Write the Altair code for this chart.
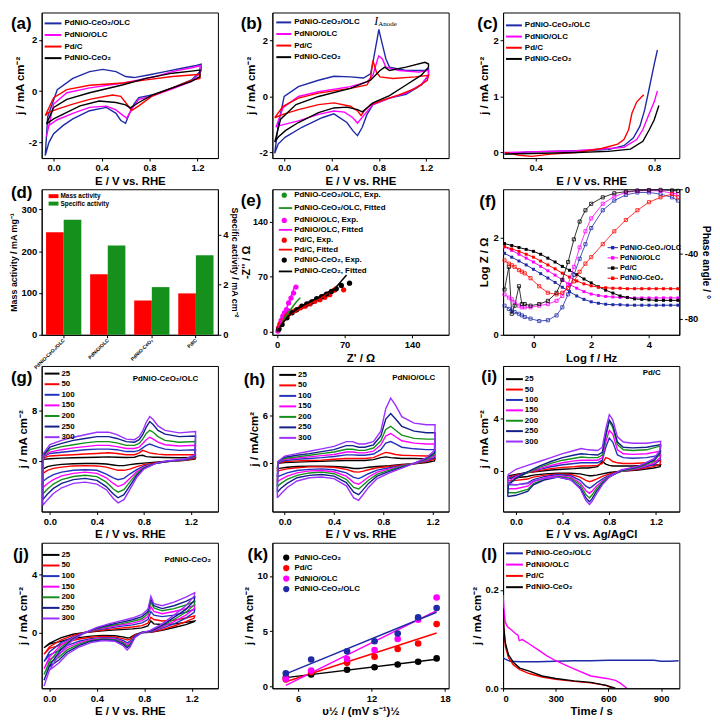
import altair as alt
import pandas as pd

FONT = "Liberation Sans"
SERIF = "Liberation Serif"

C_BLUE = "#1f2aa6"
C_MAG = "#ff00ff"
C_RED = "#ff0000"
C_BLK = "#000000"
C_GRN = "#16901c"
C_BLUE2 = "#2233bb"
C_NAVY = "#141f8a"
C_VIO = "#9b30ff"

CAT4 = ["PdNiO-CeO₂/OLC", "PdNiO/OLC", "Pd/C", "PdNiO-CeO₂"]
COL4 = [C_BLUE, C_MAG, C_RED, C_BLK]
RATES = ["25", "50", "100", "150", "200", "250", "300"]
RATE_COLS = [C_BLK, C_RED, C_BLUE2, C_MAG, C_GRN, C_NAVY, C_VIO]

# ---------------- (a) CV in KOH ----------------
A_BLUE_X = [-0.07, -0.05, 0.03, 0.16, 0.30, 0.41, 0.52, 0.60, 0.67, 0.79, 0.93, 1.07, 1.19, 1.23, 1.23, 1.15, 0.99, 0.82, 0.71, 0.67, 0.63, 0.60, 0.56, 0.52, 0.44, 0.30, 0.16, 0.08, 0.00, -0.04, -0.07]
A_BLUE_Y = [-2.5, -1.0, 0.06, 0.5, 0.76, 0.85, 0.76, 0.57, 0.53, 0.63, 0.76, 0.89, 1.0, 1.05, 0.8, 0.44, 0.13, -0.15, -0.25, -0.5, -0.89, -1.25, -1.14, -0.86, -0.63, -0.76, -1.08, -1.33, -1.65, -2.0, -2.5]
A_MAG_X = [-0.06, 0.00, 0.11, 0.30, 0.58, 0.71, 0.85, 0.99, 1.15, 1.22, 1.22, 1.15, 0.99, 0.82, 0.71, 0.66, 0.61, 0.58, 0.52, 0.44, 0.30, 0.16, 0.03, -0.04, -0.06]
A_MAG_Y = [-1.77, -0.5, -0.06, 0.13, 0.32, 0.44, 0.57, 0.76, 0.91, 0.99, 0.7, 0.38, 0.09, -0.19, -0.32, -0.63, -1.05, -0.95, -0.73, -0.58, -0.63, -0.86, -1.11, -1.33, -1.77]
A_RED_X = [-0.07, 0.00, 0.11, 0.30, 0.58, 0.77, 0.99, 1.15, 1.22, 1.22, 1.15, 0.99, 0.82, 0.71, 0.65, 0.60, 0.56, 0.49, 0.30, 0.16, 0.03, -0.04, -0.07]
A_RED_Y = [-0.95, -0.25, 0.06, 0.23, 0.32, 0.44, 0.57, 0.63, 0.66, 0.5, 0.42, 0.13, -0.19, -0.57, -0.75, -0.44, -0.2, -0.15, -0.32, -0.5, -0.7, -0.82, -0.95]
A_BLK_X = [-0.06, 0.00, 0.11, 0.30, 0.58, 0.77, 0.99, 1.15, 1.22, 1.22, 1.15, 0.99, 0.82, 0.71, 0.64, 0.60, 0.52, 0.38, 0.22, 0.08, 0.00, -0.06]
A_BLK_Y = [-1.27, -0.63, -0.32, -0.06, 0.25, 0.5, 0.7, 0.78, 0.82, 0.57, 0.38, 0.13, -0.15, -0.44, -0.65, -0.53, -0.44, -0.38, -0.57, -0.89, -1.08, -1.27]

# ---------------- (b) CV in KOH + ethanol ----------------
B_BLUE_X = [-0.08, -0.05, 0.00, 0.12, 0.29, 0.42, 0.56, 0.67, 0.73, 0.75, 0.79, 0.80, 0.82, 0.86, 0.89, 1.03, 1.19, 1.22, 1.22, 1.16, 1.03, 0.89, 0.75, 0.70, 0.66, 0.62, 0.58, 0.53, 0.42, 0.32, 0.15, 0.01, -0.05, -0.08]
B_BLUE_Y = [-2.03, -1.0, 0.0, 0.35, 0.58, 0.72, 0.70, 0.66, 0.81, 1.22, 2.15, 2.4, 2.03, 1.34, 1.05, 0.93, 0.93, 0.99, 0.76, 0.41, 0.08, -0.06, -0.29, -0.64, -1.1, -1.4, -1.22, -0.93, -0.62, -0.76, -1.1, -1.45, -1.69, -2.03]
B_MAG_X = [-0.07, -0.01, 0.12, 0.29, 0.56, 0.70, 0.75, 0.79, 0.80, 0.83, 0.86, 0.97, 1.14, 1.22, 1.22, 1.16, 1.03, 0.89, 0.75, 0.68, 0.62, 0.58, 0.51, 0.42, 0.29, 0.12, 0.01, -0.05, -0.07]
B_MAG_Y = [-1.1, -0.4, 0.0, 0.17, 0.35, 0.52, 0.76, 1.34, 1.45, 1.34, 1.05, 0.93, 0.87, 0.93, 0.76, 0.43, 0.12, -0.06, -0.29, -0.64, -0.95, -0.76, -0.56, -0.52, -0.64, -0.87, -0.99, -1.05, -1.1]
B_RED_X = [-0.08, -0.01, 0.12, 0.29, 0.56, 0.70, 0.73, 0.75, 0.78, 0.81, 0.92, 1.11, 1.22, 1.21, 1.11, 0.97, 0.84, 0.73, 0.68, 0.65, 0.62, 0.56, 0.42, 0.29, 0.12, -0.01, -0.08]
B_RED_Y = [-0.76, -0.35, -0.06, 0.12, 0.29, 0.41, 0.64, 1.28, 0.87, 0.70, 0.64, 0.70, 0.76, 0.58, 0.29, 0.06, -0.12, -0.29, -0.5, -0.68, -0.52, -0.35, -0.23, -0.29, -0.47, -0.64, -0.76]
B_BLK_X = [-0.08, -0.03, 0.10, 0.29, 0.56, 0.73, 0.81, 0.85, 0.89, 1.03, 1.19, 1.22, 1.22, 1.16, 1.03, 0.89, 0.75, 0.70, 0.66, 0.62, 0.53, 0.42, 0.29, 0.12, 0.01, -0.05, -0.08]
B_BLK_Y = [-1.63, -0.81, -0.29, 0.0, 0.29, 0.58, 0.93, 1.05, 0.93, 1.05, 1.22, 1.16, 1.05, 0.76, 0.41, 0.03, -0.23, -0.41, -0.55, -0.47, -0.38, -0.41, -0.58, -0.93, -1.22, -1.45, -1.63]

# ---------------- (c) LSV ----------------
C_BLUE_X = [0.295, 0.376, 0.537, 0.645, 0.698, 0.73, 0.752, 0.768, 0.784, 0.80, 0.811]
C_BLUE_Y = [-0.03, 0.01, 0.03, 0.05, 0.12, 0.26, 0.47, 0.76, 1.16, 1.57, 1.83]
C_MAG_X = [0.295, 0.537, 0.698, 0.741, 0.762, 0.784, 0.80, 0.811]
C_MAG_Y = [0.0, 0.03, 0.09, 0.23, 0.41, 0.70, 0.90, 1.10]
C_RED_X = [0.295, 0.344, 0.387, 0.451, 0.537, 0.623, 0.677, 0.698, 0.714, 0.725, 0.741, 0.757, 0.765]
C_RED_Y = [0.0, -0.05, -0.07, -0.03, 0.0, 0.07, 0.15, 0.23, 0.41, 0.70, 0.90, 0.99, 1.03]
C_BLK_X = [0.295, 0.537, 0.645, 0.72, 0.762, 0.784, 0.80, 0.816]
C_BLK_Y = [-0.03, 0.0, 0.02, 0.06, 0.20, 0.41, 0.58, 0.84]

# ---------------- (d) activities ----------------
D_CATS = ["PdNiO-CeO₂/OLC", "PdNiO/OLC", "PdNiO-CeO₂", "Pd/C"]
D_MASS = [245, 145, 82, 99]
D_SPEC = [4.58, 3.56, 1.9, 3.17]

# ---------------- (e) Nyquist ----------------
E_GRN_PX = [1.7, 3.4, 5.1, 6.8, 9.6, 11.9]
E_GRN_PY = [2.9, 9.2, 14.3, 17.6, 21.8, 26.0]
E_GRN_FX = [0, 5, 12, 20, 24]
E_GRN_FY = [0, 12, 25, 38, 43]
E_MAG_PX = [0.7, 1.7, 2.7, 4.1, 5.8, 7.5, 9.6, 11.9, 14.3, 17.0, 19.5]
E_MAG_PY = [0.8, 5.0, 9.2, 14.3, 19.7, 23.9, 28.1, 36.5, 42.7, 49.0, 56.6]
E_MAG_FX = [0, 3, 8, 13, 18]
E_MAG_FY = [0, 10, 25, 40, 57]
E_RED_PX = [1.7, 3.4, 6.1, 8.5, 11.9, 15.4, 18.8, 23.9, 29.0, 34.1, 39.2, 44.4, 49.5, 54.6, 59.7, 69.0]
E_RED_PY = [5.0, 10.1, 15.5, 19.7, 22.6, 25.1, 26.8, 30.2, 32.3, 35.2, 38.6, 40.7, 43.6, 46.9, 52.8, 53.2]
E_RED_FX = [0, 5, 15, 30, 45, 62]
E_RED_FY = [0, 11, 23, 33, 42, 58]
E_BLK_PX = [1.7, 5.1, 10.2, 15.4, 20.5, 25.6, 30.7, 35.8, 41.0, 46.1, 51.2, 56.3, 61.4, 66.6, 75.1]
E_BLK_PY = [2.9, 9.2, 17.6, 23.9, 28.1, 32.3, 35.2, 37.7, 41.9, 44.4, 47.8, 51.1, 54.5, 58.7, 61.6]
E_BLK_FX = [0, 5, 15, 30, 45, 60, 72]
E_BLK_FY = [0, 10, 24, 36, 45, 55, 72]

# ---------------- (f) Bode ----------------
F_LZ_X = [-1.0, -0.75, -0.5, -0.25, 0.0, 0.25, 0.5, 0.75, 1.0, 1.25, 1.5, 1.75, 2.0, 2.25, 2.5, 2.75, 3.0, 3.25, 3.5, 3.75, 4.0, 4.25, 4.5, 4.75, 5.0]
F_LZ_BLUE = [1.68, 1.60, 1.52, 1.44, 1.35, 1.26, 1.17, 1.08, 0.98, 0.89, 0.80, 0.73, 0.68, 0.65, 0.63, 0.62, 0.62, 0.61, 0.61, 0.61, 0.61, 0.61, 0.61, 0.61, 0.61]
F_LZ_MAG = [1.81, 1.74, 1.66, 1.58, 1.50, 1.41, 1.32, 1.23, 1.13, 1.04, 0.96, 0.89, 0.84, 0.81, 0.79, 0.78, 0.77, 0.77, 0.76, 0.76, 0.76, 0.76, 0.76, 0.76, 0.76]
F_LZ_BLK = [1.88, 1.84, 1.80, 1.76, 1.72, 1.66, 1.58, 1.50, 1.41, 1.33, 1.24, 1.15, 1.07, 0.99, 0.92, 0.86, 0.80, 0.77, 0.74, 0.73, 0.72, 0.71, 0.71, 0.71, 0.71]
F_LZ_RED = [1.82, 1.77, 1.72, 1.66, 1.60, 1.52, 1.44, 1.36, 1.27, 1.19, 1.11, 1.05, 1.01, 0.98, 0.97, 0.96, 0.96, 0.95, 0.95, 0.95, 0.95, 0.95, 0.95, 0.95, 0.95]
F_PH_X = [-1.0, -0.85, -0.75, -0.65, -0.5, -0.4, -0.3, -0.1, 0.2, 0.5, 0.8, 1.0, 1.2, 1.4, 1.6, 1.8, 2.0, 2.4, 2.8, 3.2, 3.6, 4.0, 4.4, 4.8, 5.0]
F_PH_BLUE = [-72, -74, -75, -76, -77, -78, -79, -80, -81.5, -81, -78, -73, -65, -53, -43, -34, -24, -13, -7, -3.5, -2, -2, -3, -5, -7]
F_PH_MAG = [-65, -67, -68, -70, -72, -73, -73, -73, -72, -71, -69, -66, -59, -48, -36, -26, -18, -9, -4.5, -2, -1, -0.8, -1, -2.5, -3]
F_PH_BLK = [-62, -48, -77, -72, -60, -71, -71, -72, -71, -69, -64, -56, -45, -31, -20, -13, -9, -5, -2.5, -1.5, -0.8, -0.5, -0.4, -0.7, -1]
F_PH_RED = [-44, -46, -47, -48, -50, -51, -52, -55, -60, -64, -65, -64, -61, -57, -51, -46, -42, -34, -26, -19, -13, -8, -5, -3, -5]

# ---------------- (g) PdNiO-CeO2/OLC scan rates ----------------
XG = [-0.06, -0.055, 0.0, 0.1, 0.2, 0.3, 0.4, 0.5, 0.57, 0.65, 0.72, 0.76, 0.79, 0.82, 0.85, 0.88, 0.92, 0.98, 1.1, 1.24,
      1.235, 1.15, 1.0, 0.9, 0.8, 0.74, 0.68, 0.63, 0.58, 0.54, 0.48, 0.4, 0.3, 0.2, 0.1, 0.03, -0.02, -0.06]
G_25 = [-1.3, 0.25, 0.35, 0.45, 0.5, 0.55, 0.6, 0.65, 0.6, 0.55, 0.6, 0.85, 0.9, 0.7, 0.65, 0.6, 0.6, 0.55, 0.5, 0.55,
        0.3, 0.1, -0.05, -0.2, -0.35, -0.45, -0.6, -0.75, -0.75, -0.65, -0.5, -0.4, -0.4, -0.45, -0.55, -0.7, -0.9, -1.3]
G_50 = [-2.0, 0.5, 0.8, 0.9, 1.0, 1.1, 1.2, 1.3, 1.2, 1.0, 1.0, 1.3, 1.7, 1.5, 1.3, 1.2, 1.1, 1.0, 1.0, 1.0,
        0.4, 0.1, -0.1, -0.3, -0.6, -0.9, -1.3, -1.5, -1.5, -1.3, -1.0, -0.8, -0.75, -0.8, -1.0, -1.2, -1.5, -2.0]
G_100 = [-3.3, 0.7, 1.2, 1.4, 1.6, 1.8, 1.9, 1.9, 1.8, 1.5, 1.5, 1.7, 2.1, 2.5, 2.7, 2.5, 2.2, 1.9, 1.7, 1.8,
         0.6, 0.15, -0.1, -0.4, -0.8, -1.4, -2.1, -2.8, -3.0, -2.7, -2.1, -1.5, -1.4, -1.5, -1.8, -2.2, -2.7, -3.3]
G_150 = [-4.3, 0.8, 1.4, 1.8, 2.1, 2.3, 2.5, 2.5, 2.3, 2.0, 2.0, 2.2, 2.8, 3.4, 3.8, 3.5, 3.0, 2.6, 2.4, 2.5,
         0.7, 0.2, -0.1, -0.4, -1.0, -1.7, -2.8, -3.7, -4.1, -3.6, -2.7, -2.0, -1.8, -2.0, -2.4, -3.0, -3.6, -4.3]
G_200 = [-5.3, 0.9, 1.8, 2.3, 2.6, 2.9, 3.1, 3.1, 2.9, 2.5, 2.5, 2.8, 3.5, 4.4, 4.9, 4.6, 3.9, 3.3, 3.0, 3.1,
         0.8, 0.2, -0.1, -0.4, -1.1, -2.0, -3.4, -4.6, -5.0, -4.5, -3.4, -2.5, -2.3, -2.5, -3.0, -3.7, -4.5, -5.3]
G_250 = [-6.2, 1.0, 2.2, 2.8, 3.3, 3.6, 3.9, 3.9, 3.6, 3.1, 3.0, 3.4, 4.2, 5.4, 6.3, 5.8, 4.9, 4.3, 3.9, 4.0,
         0.9, 0.25, -0.05, -0.4, -1.2, -2.3, -4.0, -5.4, -5.9, -5.3, -4.1, -3.1, -2.8, -3.0, -3.6, -4.4, -5.3, -6.2]
G_300 = [-7.1, 1.2, 2.6, 3.3, 3.8, 4.2, 4.6, 4.6, 4.2, 3.5, 3.4, 3.9, 4.8, 6.2, 7.1, 6.6, 5.6, 4.9, 4.5, 4.7,
         1.0, 0.3, 0.0, -0.4, -1.3, -2.6, -4.6, -6.2, -6.7, -6.0, -4.6, -3.7, -3.4, -3.6, -4.3, -5.2, -6.2, -7.1]

# ---------------- (h) PdNiO/OLC scan rates ----------------
XH = [-0.06, -0.055, 0.0, 0.1, 0.2, 0.3, 0.4, 0.5, 0.55, 0.6, 0.65, 0.72, 0.78, 0.82, 0.86, 0.9, 0.95, 1.05, 1.15, 1.22,
      1.215, 1.15, 1.05, 0.95, 0.85, 0.75, 0.68, 0.63, 0.6, 0.56, 0.5, 0.4, 0.3, 0.2, 0.1, 0.02, -0.03, -0.06]
H_25 = [-0.7, 0.0, 0.1, 0.15, 0.2, 0.25, 0.3, 0.35, 0.35, 0.35, 0.35, 0.45, 0.7, 0.8, 0.7, 0.65, 0.6, 0.6, 0.55, 0.6,
        0.3, 0.1, -0.05, -0.15, -0.3, -0.4, -0.5, -0.6, -0.65, -0.65, -0.5, -0.4, -0.35, -0.35, -0.4, -0.5, -0.6, -0.7]
H_50 = [-1.0, 0.0, 0.2, 0.3, 0.35, 0.4, 0.5, 0.6, 0.6, 0.6, 0.6, 0.7, 1.1, 1.35, 1.25, 1.1, 1.0, 0.95, 0.9, 1.0,
        0.5, 0.2, -0.05, -0.2, -0.4, -0.55, -0.8, -1.0, -1.1, -1.05, -0.75, -0.5, -0.45, -0.45, -0.55, -0.7, -0.85, -1.0]
H_100 = [-1.7, 0.05, 0.35, 0.5, 0.6, 0.7, 0.85, 1.05, 1.05, 1.0, 1.0, 1.15, 1.7, 2.5, 2.7, 2.4, 2.0, 1.8, 1.7, 1.7,
         0.7, 0.3, -0.05, -0.3, -0.55, -0.85, -1.3, -1.7, -1.9, -1.75, -1.2, -0.8, -0.7, -0.75, -0.9, -1.2, -1.5, -1.7]
H_150 = [-2.3, 0.1, 0.5, 0.65, 0.8, 0.95, 1.1, 1.4, 1.4, 1.3, 1.3, 1.5, 2.3, 3.4, 3.7, 3.3, 2.8, 2.5, 2.4, 2.4,
         0.9, 0.4, 0.0, -0.35, -0.7, -1.1, -1.7, -2.3, -2.6, -2.4, -1.6, -1.05, -0.9, -0.95, -1.2, -1.6, -2.0, -2.3]
H_200 = [-2.9, 0.15, 0.6, 0.8, 1.0, 1.2, 1.4, 1.75, 1.75, 1.6, 1.6, 1.9, 2.8, 4.2, 4.6, 4.1, 3.5, 3.1, 3.0, 3.0,
         1.1, 0.5, 0.0, -0.4, -0.85, -1.35, -2.1, -2.8, -3.2, -3.0, -2.0, -1.3, -1.1, -1.2, -1.5, -2.0, -2.5, -2.9]
H_250 = [-3.6, 0.2, 0.75, 1.0, 1.2, 1.45, 1.7, 2.2, 2.2, 2.0, 2.0, 2.3, 3.4, 5.5, 6.2, 5.5, 4.6, 4.0, 3.8, 3.8,
         1.3, 0.6, 0.0, -0.5, -1.0, -1.6, -2.5, -3.4, -3.9, -3.6, -2.4, -1.6, -1.4, -1.5, -1.8, -2.5, -3.1, -3.6]
H_300 = [-4.3, 0.2, 0.9, 1.2, 1.5, 1.8, 2.1, 2.7, 2.7, 2.4, 2.4, 2.7, 4.0, 6.8, 8.1, 7.2, 5.8, 5.0, 4.8, 4.8,
         1.6, 0.7, 0.0, -0.6, -1.2, -1.9, -3.0, -4.0, -4.6, -4.3, -2.8, -1.9, -1.7, -1.8, -2.2, -3.0, -3.8, -4.3]

# ---------------- (i) Pd/C scan rates ----------------
XI = [-0.07, -0.065, 0.0, 0.1, 0.2, 0.3, 0.4, 0.5, 0.56, 0.62, 0.7, 0.74, 0.77, 0.8, 0.83, 0.87, 0.92, 1.0, 1.12, 1.24,
      1.235, 1.18, 1.05, 0.9, 0.8, 0.74, 0.69, 0.65, 0.63, 0.6, 0.55, 0.47, 0.36, 0.25, 0.15, 0.1, 0.0, -0.07]
I_25 = [-0.6, -0.4, -0.3, -0.15, -0.05, 0.05, 0.1, 0.15, 0.2, 0.2, 0.3, 0.7, 0.5, 0.4, 0.35, 0.35, 0.35, 0.35, 0.4, 0.45,
        0.3, 0.2, 0.05, -0.05, -0.15, -0.25, -0.35, -0.4, -0.4, -0.35, -0.25, -0.2, -0.2, -0.25, -0.35, -0.45, -0.55, -0.6]
I_50 = [-0.8, -0.5, -0.35, -0.15, 0.0, 0.15, 0.25, 0.3, 0.35, 0.35, 0.4, 0.55, 1.0, 0.9, 0.7, 0.6, 0.55, 0.55, 0.6, 0.8,
        0.5, 0.3, 0.1, -0.05, -0.25, -0.45, -0.65, -0.8, -0.85, -0.75, -0.5, -0.3, -0.25, -0.35, -0.5, -0.65, -0.75, -0.8]
I_100 = [-1.1, -0.6, -0.4, -0.1, 0.1, 0.3, 0.45, 0.55, 0.6, 0.6, 0.6, 0.8, 1.8, 2.5, 2.2, 1.2, 1.0, 0.95, 1.0, 1.2,
         0.8, 0.45, 0.15, -0.05, -0.35, -0.65, -0.95, -1.25, -1.35, -1.2, -0.75, -0.4, -0.3, -0.45, -0.7, -0.95, -1.1, -1.1]
I_150 = [-1.4, -0.8, -0.5, -0.15, 0.15, 0.4, 0.6, 0.75, 0.8, 0.8, 0.8, 1.0, 2.2, 3.1, 2.8, 1.6, 1.3, 1.25, 1.3, 1.5,
         1.0, 0.55, 0.2, -0.05, -0.4, -0.8, -1.2, -1.6, -1.75, -1.55, -0.95, -0.5, -0.4, -0.55, -0.85, -1.2, -1.4, -1.4]
I_200 = [-1.7, -1.0, -0.6, -0.15, 0.25, 0.55, 0.8, 0.95, 1.05, 1.0, 1.0, 1.2, 2.6, 3.8, 3.3, 2.0, 1.6, 1.55, 1.6, 1.9,
         1.3, 0.7, 0.25, -0.05, -0.45, -0.9, -1.4, -1.9, -2.1, -1.85, -1.1, -0.6, -0.45, -0.65, -1.0, -1.45, -1.7, -1.7]
I_250 = [-2.0, -1.1, -0.6, -0.1, 0.35, 0.7, 1.0, 1.2, 1.3, 1.25, 1.2, 1.4, 2.8, 3.9, 3.5, 2.2, 1.8, 1.75, 1.8, 2.0,
         1.4, 0.8, 0.3, 0.0, -0.5, -1.0, -1.6, -2.2, -2.4, -2.1, -1.3, -0.7, -0.5, -0.7, -1.1, -1.6, -1.9, -2.0]
I_300 = [-1.0, -0.3, 0.1, 0.4, 0.7, 1.0, 1.3, 1.55, 1.7, 1.6, 1.55, 1.8, 3.2, 4.3, 3.9, 2.6, 2.2, 2.1, 2.1, 2.25,
         1.6, 0.9, 0.35, 0.05, -0.5, -1.1, -1.8, -2.4, -2.6, -2.3, -1.4, -0.7, -0.5, -0.6, -0.8, -1.0, -1.1, -1.0]

# ---------------- (j) PdNiO-CeO2 scan rates ----------------
XJ = [-0.045, 0.0, 0.1, 0.2, 0.3, 0.4, 0.5, 0.6, 0.7, 0.78, 0.83, 0.855, 0.88, 0.95, 1.05, 1.15, 1.225,
      1.22, 1.15, 1.05, 0.95, 0.85, 0.78, 0.72, 0.68, 0.655, 0.62, 0.55, 0.45, 0.35, 0.25, 0.15, 0.08, 0.0, -0.045]
J_25 = [-1.05, -0.75, -0.35, -0.12, 0.0, 0.08, 0.15, 0.2, 0.25, 0.32, 0.45, 0.8, 0.6, 0.55, 0.6, 0.7, 0.8,
        0.75, 0.55, 0.35, 0.15, 0.02, 0.0, -0.15, -0.35, -0.38, -0.3, -0.22, -0.2, -0.25, -0.35, -0.5, -0.65, -0.8, -1.05]
J_50 = [-1.5, -1.0, -0.5, -0.2, 0.0, 0.12, 0.22, 0.3, 0.38, 0.48, 0.65, 1.05, 0.9, 0.8, 0.85, 1.0, 1.15,
        1.0, 0.75, 0.45, 0.2, 0.02, 0.0, -0.18, -0.45, -0.52, -0.42, -0.3, -0.27, -0.33, -0.45, -0.65, -0.9, -1.1, -1.5]
J_100 = [-2.0, -1.35, -0.7, -0.3, 0.0, 0.18, 0.3, 0.42, 0.53, 0.67, 0.9, 1.45, 1.2, 1.1, 1.2, 1.4, 1.6,
         1.4, 1.0, 0.6, 0.3, 0.04, 0.0, -0.22, -0.6, -0.72, -0.55, -0.38, -0.35, -0.42, -0.6, -0.9, -1.25, -1.55, -2.0]
J_150 = [-2.5, -1.7, -0.85, -0.35, 0.0, 0.23, 0.38, 0.52, 0.65, 0.82, 1.1, 1.8, 1.45, 1.3, 1.45, 1.65, 1.9,
         1.65, 1.2, 0.75, 0.38, 0.06, 0.0, -0.25, -0.7, -0.85, -0.65, -0.45, -0.4, -0.5, -0.7, -1.05, -1.5, -1.85, -2.5]
J_200 = [-2.9, -2.0, -1.0, -0.4, 0.0, 0.27, 0.45, 0.6, 0.77, 0.95, 1.3, 2.1, 1.7, 1.5, 1.65, 1.9, 2.15,
         1.9, 1.4, 0.9, 0.45, 0.08, 0.0, -0.28, -0.8, -0.95, -0.72, -0.5, -0.45, -0.55, -0.8, -1.2, -1.7, -2.1, -2.9]
J_250 = [-3.3, -2.3, -1.15, -0.45, 0.0, 0.3, 0.52, 0.7, 0.88, 1.1, 1.45, 2.3, 1.85, 1.65, 1.85, 2.15, 2.45,
         2.2, 1.6, 1.05, 0.5, 0.1, 0.0, -0.3, -0.9, -1.05, -0.8, -0.55, -0.5, -0.6, -0.9, -1.35, -1.9, -2.35, -3.3]
J_300 = [-3.7, -2.6, -1.3, -0.5, 0.0, 0.35, 0.6, 0.8, 1.0, 1.25, 1.6, 2.5, 2.0, 1.85, 2.1, 2.45, 2.75,
         2.5, 1.85, 1.2, 0.6, 0.15, 0.0, -0.35, -1.0, -1.2, -0.9, -0.6, -0.55, -0.7, -1.0, -1.5, -2.1, -2.6, -3.7]

# ---------------- (k) j vs sqrt(scan rate) ----------------
K_X = [5.0, 7.07, 10.0, 12.25, 14.14, 15.81, 17.32]
K_BLK = [0.82, 1.1, 1.52, 1.75, 2.0, 2.25, 2.55]
K_RED = [0.65, 1.3, 2.15, 2.7, 3.4, 3.9, 5.65]
K_MAG = [0.7, 1.45, 2.5, 3.3, 4.3, 6.05, 8.05]
K_BLUE = [1.2, 2.45, 3.2, 4.1, 4.8, 6.25, 7.1]
K_NAMES = ["PdNiO-CeO₂", "Pd/C", "PdNiO/OLC", "PdNiO-CeO₂/OLC"]
K_COLS = [C_BLK, C_RED, C_MAG, C_BLUE]

# ---------------- (l) chronoamperometry ----------------
L_BLUE_T = [0, 10, 40, 100, 200, 300, 400, 500, 600, 700, 800, 860, 900, 950, 1000]
L_BLUE_J = [0.062, 0.060, 0.055, 0.054, 0.054, 0.055, 0.056, 0.056, 0.057, 0.057, 0.057, 0.057, 0.055, 0.055, 0.056]
L_MAG_T = [0, 5, 12, 25, 50, 75, 85, 92, 110, 150, 200, 250, 300, 400, 500, 590, 640, 670, 705]
L_MAG_J = [0.19, 0.16, 0.135, 0.125, 0.118, 0.110, 0.108, 0.097, 0.099, 0.090, 0.078, 0.066, 0.056, 0.040, 0.025, 0.020, 0.016, 0.010, 0.0]
L_RED_T = [0, 4, 13, 31, 58, 95, 149, 222, 300, 404, 500, 587, 623]
L_RED_J = [0.172, 0.118, 0.085, 0.062, 0.048, 0.038, 0.030, 0.023, 0.018, 0.014, 0.011, 0.006, 0.0]
L_BLK_T = [0, 4, 13, 31, 58, 95, 149, 222, 300, 404, 500, 587, 640]
L_BLK_J = [0.162, 0.125, 0.092, 0.068, 0.053, 0.041, 0.035, 0.025, 0.020, 0.015, 0.012, 0.006, 0.0]

# ======================= helpers =======================
ONE = pd.DataFrame({"k": [0]})
INT_EXPR = "'' + datum.value"
E_TITLE = "E / V vs. RHE"
J_TITLE = "j / mA cm⁻²"


def sc(dom):
    return alt.Scale(domain=dom, nice=False, zero=False)


def ax(values, title, fmt="", expr="", orient="", **kw):
    d = dict(values=values, title=title)
    if fmt:
        d["format"] = fmt
    if expr:
        d["labelExpr"] = expr
    if orient:
        d["orient"] = orient
    d.update(kw)
    return alt.Axis(**d)


def txt(t, x, y, size=8, weight="bold", align="left", font=FONT, style="normal", color="black"):
    return alt.Chart(ONE).mark_text(text=t, align=align, baseline="middle", fontSize=size,
                                    fontWeight=weight, font=font, fontStyle=style,
                                    color=color).encode(x=alt.value(x), y=alt.value(y))


def seg(x1, x2, y, color, width=2):
    return alt.Chart(ONE).mark_rule(color=color, strokeWidth=width).encode(
        x=alt.value(x1), x2=alt.value(x2), y=alt.value(y))


def dot(x, y, color, shape="circle", size=30, filled=True):
    return alt.Chart(ONE).mark_point(shape=shape, size=size, filled=filled, color=color,
                                     opacity=1, strokeWidth=1).encode(x=alt.value(x), y=alt.value(y))


def letter(t, x, y):
    return txt(t, x, y, size=17)


def line_legend(labels, colors, x0, y0, dy, length, gap=3, size=8, width=2):
    out = []
    for i, (lab, col) in enumerate(zip(labels, colors)):
        y = y0 + i * dy
        out.append(seg(x0, x0 + length, y, col, width))
        out.append(txt(lab, x0 + length + gap, y, size))
    return out


def to_df(names, xs_list, ys_list):
    rows = []
    for n, xs, ys in zip(names, xs_list, ys_list):
        for i, (a, b) in enumerate(zip(xs, ys)):
            rows.append({"x": a, "y": b, "s": n, "o": i})
    return pd.DataFrame(rows)


def lines(df, names, cols, xdom, ydom, xax, yax, sw=1.4, ordered=True):
    enc = dict(x=alt.X("x:Q", scale=sc(xdom), axis=xax),
               y=alt.Y("y:Q", scale=sc(ydom), axis=yax),
               color=alt.Color("s:N", scale=alt.Scale(domain=names, range=cols), legend=None))
    if ordered:
        enc["order"] = alt.Order("o:Q")
    return alt.Chart(df).mark_line(strokeWidth=sw, clip=True).encode(**enc)


W = 178
H = 147
CVX = [0.0, 0.4, 0.8, 1.2]

# ---------- (a) ----------
pa_main = lines(to_df(CAT4, [A_BLUE_X, A_MAG_X, A_RED_X, A_BLK_X], [A_BLUE_Y, A_MAG_Y, A_RED_Y, A_BLK_Y]),
                CAT4, COL4, [-0.1, 1.37], [-2.6, 3.06],
                ax(CVX, E_TITLE, fmt=".1f"), ax([-2, 0, 2], J_TITLE, expr=INT_EXPR))
pa = alt.layer(pa_main, *line_legend(CAT4, COL4, 3, 11, 11.7, 17), letter("(a)", -31, 12)).properties(width=W, height=H)

# ---------- (b) ----------
pb_main = lines(to_df(CAT4, [B_BLUE_X, B_MAG_X, B_RED_X, B_BLK_X], [B_BLUE_Y, B_MAG_Y, B_RED_Y, B_BLK_Y]),
                CAT4, COL4, [-0.1, 1.39], [-2.2, 3.0],
                ax(CVX, E_TITLE, fmt=".1f"), ax([-2, 0, 2], J_TITLE, expr=INT_EXPR))
pb = alt.layer(pb_main, *line_legend(CAT4, COL4, 4, 10, 11.7, 15),
               txt("I", 103, 9, size=12, weight="normal", font=SERIF, style="italic"),
               txt("Anode", 107, 12, size=7, weight="normal", font=SERIF),
               letter("(b)", -32, 12)).properties(width=W, height=H)

# ---------- (c) ----------
pc_main = lines(to_df(CAT4, [C_BLUE_X, C_MAG_X, C_RED_X, C_BLK_X], [C_BLUE_Y, C_MAG_Y, C_RED_Y, C_BLK_Y]),
                CAT4, COL4, [0.29, 0.885], [-0.1, 2.5],
                ax([0.4, 0.8], E_TITLE, fmt=".1f"), ax([0, 1, 2], J_TITLE, expr=INT_EXPR), ordered=False)
pc = alt.layer(pc_main, *line_legend(CAT4, COL4, 3, 13, 11.3, 16), letter("(c)", -26, 12)).properties(width=W, height=H)

# ---------- (d) ----------
d_mass = pd.DataFrame({"cat": D_CATS, "v": D_MASS, "m": ["mass"] * 4})
d_spec = pd.DataFrame({"cat": D_CATS, "v": D_SPEC, "m": ["spec"] * 4})
xd = alt.X("cat:N", sort=D_CATS, scale=alt.Scale(paddingInner=0.2, paddingOuter=0.1),
           axis=alt.Axis(title=None, labelAngle=-45, labelFontSize=5, labelAlign="right",
                         labelBaseline="middle", labelPadding=1))
xo = alt.XOffset("m:N", scale=alt.Scale(domain=["mass", "spec"]))
bars_m = alt.Chart(d_mass).mark_bar(color=C_RED).encode(
    x=xd, xOffset=xo,
    y=alt.Y("v:Q", scale=alt.Scale(domain=[0, 348], nice=False),
            axis=ax([0, 100, 200, 300], "Mass activity / mA mg⁻¹", expr=INT_EXPR, titleFontSize=9)))
bars_s = alt.Chart(d_spec).mark_bar(color=C_GRN).encode(
    x=xd, xOffset=xo,
    y=alt.Y("v:Q", scale=alt.Scale(domain=[0, 5.8], nice=False),
            axis=ax([0, 2, 4], "Specific activity / mA cm⁻²", expr=INT_EXPR, orient="right",
                    titleFontSize=9, titlePadding=1)))
pd_ = alt.layer(bars_m, bars_s,
                seg(7, 17, 7, C_RED, 4), txt("Mass activity", 19, 7, size=6.5),
                seg(7, 17, 14.5, C_GRN, 4), txt("Specific activity", 19, 14.5, size=6.5),
                letter("(d)", -31, 4)).resolve_scale(y="independent").properties(width=W, height=H)

# ---------- (e) ----------
E_NAMES = ["PdNiO-CeO₂/OLC", "PdNiO/OLC", "Pd/C", "PdNiO-CeO₂"]
E_COLS = [C_GRN, C_MAG, C_RED, C_BLK]
e_pts = to_df(E_NAMES, [E_GRN_PX, E_MAG_PX, E_RED_PX, E_BLK_PX], [E_GRN_PY, E_MAG_PY, E_RED_PY, E_BLK_PY])
e_fit = to_df(E_NAMES, [E_GRN_FX, E_MAG_FX, E_RED_FX, E_BLK_FX], [E_GRN_FY, E_MAG_FY, E_RED_FY, E_BLK_FY])
ex = alt.X("x:Q", scale=sc([-5, 178]), axis=ax([0, 70, 140], "Z' / Ω", expr=INT_EXPR))
ey = alt.Y("y:Q", scale=sc([-4, 181]), axis=ax([0, 70, 140], "-Z'' / Ω", expr=INT_EXPR,
                                               labelFontSize=9, titlePadding=1, titleFontSize=11))
ecol = alt.Color("s:N", scale=alt.Scale(domain=E_NAMES, range=E_COLS), legend=None)
e_p = alt.Chart(e_pts).mark_circle(size=28, opacity=1).encode(x=ex, y=ey, color=ecol)
e_l = alt.Chart(e_fit).mark_line(strokeWidth=1.5).encode(x=ex, y=ey, color=ecol)
e_leg = []
E_LEG_Y = [6, 19, 31.5, 41, 51.5, 61, 71.5, 83]
for i, (n, c) in enumerate(zip(E_NAMES, E_COLS)):
    y1 = E_LEG_Y[2 * i]
    y2 = E_LEG_Y[2 * i + 1]
    e_leg += [dot(12, y1, c, size=28), txt(n + ", Exp.", 22, y1),
              seg(6.5, 20, y2, c, 1.8), txt(n + ", Fitted", 22, y2)]
pe = alt.layer(e_p, e_l, *e_leg, letter("(e)", -32, 12)).properties(width=W, height=H)

# ---------- (f) ----------
F_NAMES = ["PdNiO-CeO₂/OLC", "PdNiO/OLC", "Pd/C", "PdNiO-CeO₂"]
F_COLS = [C_BLUE, C_MAG, C_BLK, C_RED]
f_lz = to_df(F_NAMES, [F_LZ_X] * 4, [F_LZ_BLUE, F_LZ_MAG, F_LZ_BLK, F_LZ_RED])
f_ph = to_df(F_NAMES, [F_PH_X] * 4, [F_PH_BLUE, F_PH_MAG, F_PH_BLK, F_PH_RED])
fx = alt.X("x:Q", scale=sc([-1.05, 5.05]), axis=ax([0, 2, 4], "Log f / Hz", expr=INT_EXPR))
fcol = alt.Color("s:N", scale=alt.Scale(domain=F_NAMES, range=F_COLS), legend=None)
f_a = alt.Chart(f_lz).mark_line(strokeWidth=1, point=alt.OverlayMarkDef(shape="square", size=9, filled=True)).encode(
    x=fx, y=alt.Y("y:Q", scale=sc([0, 3]), axis=ax([0, 2], "Log Z / Ω", expr=INT_EXPR)), color=fcol, order=alt.Order("o:Q"))
f_b = alt.Chart(f_ph).mark_line(strokeWidth=0.8, point=alt.OverlayMarkDef(shape="square", size=10, filled=False, strokeWidth=0.8)).encode(
    x=fx, y=alt.Y("y:Q", scale=sc([-90, 0]), axis=ax([0, -40, -80], "Phase angle / °", expr=INT_EXPR, orient="right", titleFontSize=10.5)),
    color=fcol, order=alt.Order("o:Q"))
f_leg = []
for i, (n, c) in enumerate(zip(F_NAMES, F_COLS)):
    y = 59 + i * 10.3
    f_leg += [seg(105.5, 116, y, c, 1), dot(110.7, y, c, shape="square", size=12), txt(n, 118, y, size=7.5)]
pf = alt.layer(f_a, f_b, *f_leg, letter("(f)", -24, 13)).resolve_scale(y="independent").properties(width=W, height=H)


# ---------- (g)-(j) ----------
def rate_panel(xgrid, series, xdom, ydom, yticks, xtitle, ytitle, leg, tag, tagpos, let, letpos):
    df = to_df(RATES, [xgrid] * 7, series)
    main = lines(df, RATES, RATE_COLS, xdom, ydom, ax(CVX, xtitle, fmt=".1f"), ax(yticks, ytitle, expr=INT_EXPR))
    x0, y0, dy, ln = leg
    return alt.layer(main, *line_legend(RATES, RATE_COLS, x0, y0, dy, ln, gap=2),
                     txt(tag, tagpos[0], tagpos[1]), letter(let, letpos[0], letpos[1])).properties(width=W, height=H)


pg = rate_panel(XG, [G_25, G_50, G_100, G_150, G_200, G_250, G_300], [-0.07, 1.43], [-8.1, 15.2], [0, 8],
                E_TITLE, J_TITLE, (3, 7.7, 10.7, 15), "PdNiO-CeO₂/OLC", (92, 12.7), "(g)", (-31, 12))
ph = rate_panel(XH, [H_25, H_50, H_100, H_150, H_200, H_250, H_300], [-0.1, 1.33], [-6, 12.1], [0, 6],
                E_TITLE, "j / mA/cm²", (7, 9, 10.6, 17), "PdNiO/OLC", (121, 12.3), "(h)", (-29, 14))
pi = rate_panel(XI, [I_25, I_50, I_100, I_150, I_200, I_250, I_300], [-0.11, 1.4], [-3.15, 8.05], [0, 4],
                "E / V vs. Ag/AgCl", J_TITLE, (3, 13.3, 10.5, 17), "Pd/C", (141, 7.3), "(i)", (-22, 11))
pj = rate_panel(XJ, [J_25, J_50, J_100, J_150, J_200, J_250, J_300], [-0.065, 1.42], [-3.85, 6.2], [0, 4],
                E_TITLE, J_TITLE, (1, 12.3, 10.7, 17), "PdNiO-CeO₂", (124, 17.7), "(j)", (-29, 12))

# ---------- (k) ----------
k_df = to_df(K_NAMES, [K_X] * 4, [K_BLK, K_RED, K_MAG, K_BLUE])
kx = alt.X("x:Q", scale=sc([3.9, 18.3]), axis=ax([6, 12, 18], "υ½ / (mV s⁻¹)½", expr=INT_EXPR))
ky = alt.Y("y:Q", scale=sc([-0.15, 13]), axis=ax([0, 5, 10], J_TITLE, expr=INT_EXPR))
kcol = alt.Color("s:N", scale=alt.Scale(domain=K_NAMES, range=K_COLS), legend=None)
k_fit = alt.Chart(k_df).transform_regression("x", "y", groupby=["s"]).mark_line(strokeWidth=1.5).encode(x=kx, y=ky, color=kcol)
k_pts = alt.Chart(k_df).mark_circle(size=45, opacity=1).encode(x=kx, y=ky, color=kcol)
k_leg = []
for i, (n, c) in enumerate(zip(K_NAMES, K_COLS)):
    y = 15 + i * 10.6
    k_leg += [dot(14, y, c, size=40), txt(n, 22.3, y)]
pk = alt.layer(k_fit, k_pts, *k_leg, letter("(k)", -25, 12)).properties(width=W, height=H)

# ---------- (l) ----------
l_df = to_df(CAT4, [L_BLUE_T, L_MAG_T, L_RED_T, L_BLK_T], [L_BLUE_J, L_MAG_J, L_RED_J, L_BLK_J])
pl_main = lines(l_df, CAT4, COL4, [0, 1004], [0, 0.296],
                ax([0, 300, 600, 900], "Time / s", expr=INT_EXPR), ax([0.0, 0.2], J_TITLE, fmt=".1f"))
pl = alt.layer(pl_main, *line_legend(CAT4, COL4, 3, 10.7, 11.4, 17), letter("(l)", -22, 12)).properties(width=W, height=H)

# ---------- layout ----------
chart = alt.concat(pa, pb, pc, pd_, pe, pf, pg, ph, pi, pj, pk, pl, columns=3,
                   spacing={"row": 31.5, "column": 55}, bounds="flush").resolve_scale(color="independent")

chart = chart.configure_view(stroke="black", strokeWidth=1).configure_axis(
    labelFont=FONT, labelFontSize=9.5, labelFontWeight="bold", labelColor="black",
    titleFont=FONT, titleFontSize=11.5, titleFontWeight="bold", titleColor="black",
    domainColor="black", domainWidth=1, tickColor="black", tickWidth=1, tickSize=3,
    labelPadding=2, titlePadding=3, grid=False
).properties(padding={"left": 0, "top": 0, "right": 0, "bottom": 0})

chart.save("out.html", embed_options={"renderer": "svg", "actions": False})
